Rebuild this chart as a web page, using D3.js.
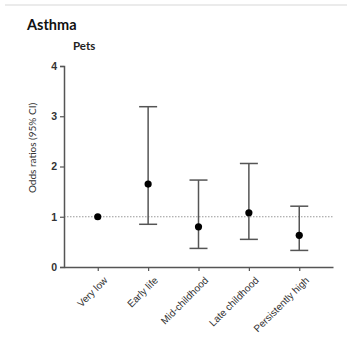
<!DOCTYPE html>
<html>
<head>
<meta charset="utf-8">
<script src="https://cdn.jsdelivr.net/npm/d3@7"></script>
<style>
  body { margin: 0; background: #fff; }
  svg { display: block; font-family: Lato, "Open Sans", sans-serif; }
</style>
</head>
<body>
<svg id="chart" width="349" height="342"></svg>
<script>
const categories = ["Very low", "Early life", "Mid-childhood", "Late childhood", "Persistently high"];
const oddsRatios = [1.0, 1.65, 0.80, 1.08, 0.63];
const lowerCI = [null, 0.85, 0.37, 0.55, 0.33];
const upperCI = [null, 3.19, 1.73, 2.06, 1.21];
const yTicks = [0, 1, 2, 3, 4];

const svg = d3.select("#chart");

// faint rule at the very top
svg.append("line")
  .attr("x1", 5).attr("x2", 347)
  .attr("y1", 5).attr("y2", 5)
  .attr("stroke", "#ebebeb")
  .attr("stroke-width", 2);

svg.append("text")
  .attr("x", 27).attr("y", 30)
  .attr("font-size", 14.5).attr("font-weight", "bold")
  .attr("fill", "#111")
  .text("Asthma");

svg.append("text")
  .attr("x", 73).attr("y", 50)
  .attr("font-size", 11.5).attr("font-weight", "bold")
  .attr("fill", "#222")
  .text("Pets");

const x = d3.scalePoint()
  .domain(categories)
  .range([64, 333])
  .padding(0.67);

const y = d3.scaleLinear()
  .domain([0, 4])
  .range([267, 66]);

// reference line at OR = 1
svg.append("line")
  .attr("x1", 64).attr("x2", 333)
  .attr("y1", y(1)).attr("y2", y(1))
  .attr("stroke", "#999")
  .attr("stroke-width", 1)
  .attr("stroke-dasharray", "1.5,1.5");

const yAxis = svg.append("g")
  .attr("transform", "translate(64,0)")
  .call(d3.axisLeft(y).tickValues(yTicks).tickSize(4).tickPadding(3).tickFormat(d3.format("d")));
yAxis.select(".domain").attr("stroke", "#555").attr("stroke-width", 1.5);
yAxis.selectAll(".tick line").attr("stroke", "#555").attr("stroke-width", 1.2);
yAxis.selectAll("text").attr("font-size", 10.5).attr("font-weight", "bold").attr("fill", "#333");

const xAxis = svg.append("g")
  .attr("transform", "translate(0,267)")
  .call(d3.axisBottom(x).tickSize(4).tickSizeOuter(0));
xAxis.select(".domain").attr("stroke", "#555").attr("stroke-width", 1.5);
xAxis.selectAll(".tick line").attr("stroke", "#555").attr("stroke-width", 1.2);
xAxis.selectAll("text")
  .attr("font-size", 10)
  .attr("fill", "#333")
  .attr("text-anchor", "end")
  .attr("dy", null)
  .attr("transform", "translate(5,9) rotate(-45)");

svg.append("text")
  .attr("transform", "translate(36,148) rotate(-90)")
  .attr("text-anchor", "middle")
  .attr("font-size", 10)
  .attr("fill", "#333")
  .text("Odds ratios (95% CI)");

const rows = categories.map((c, i) => ({ c, or: oddsRatios[i], lo: lowerCI[i], hi: upperCI[i] }));
const bars = rows.filter(d => d.lo !== null);

const g = svg.append("g").attr("stroke", "#555").attr("stroke-width", 1.5);
g.selectAll("line.v").data(bars).join("line")
  .attr("class", "v")
  .attr("x1", d => x(d.c)).attr("x2", d => x(d.c))
  .attr("y1", d => y(d.lo)).attr("y2", d => y(d.hi));
g.selectAll("line.top").data(bars).join("line")
  .attr("class", "top")
  .attr("x1", d => x(d.c) - 9).attr("x2", d => x(d.c) + 9)
  .attr("y1", d => y(d.hi)).attr("y2", d => y(d.hi));
g.selectAll("line.bot").data(bars).join("line")
  .attr("class", "bot")
  .attr("x1", d => x(d.c) - 9).attr("x2", d => x(d.c) + 9)
  .attr("y1", d => y(d.lo)).attr("y2", d => y(d.lo));

svg.selectAll("circle.pt").data(rows).join("circle")
  .attr("class", "pt")
  .attr("cx", d => x(d.c))
  .attr("cy", d => y(d.or))
  .attr("r", 3.6)
  .attr("fill", "#000");
</script>
</body>
</html>
